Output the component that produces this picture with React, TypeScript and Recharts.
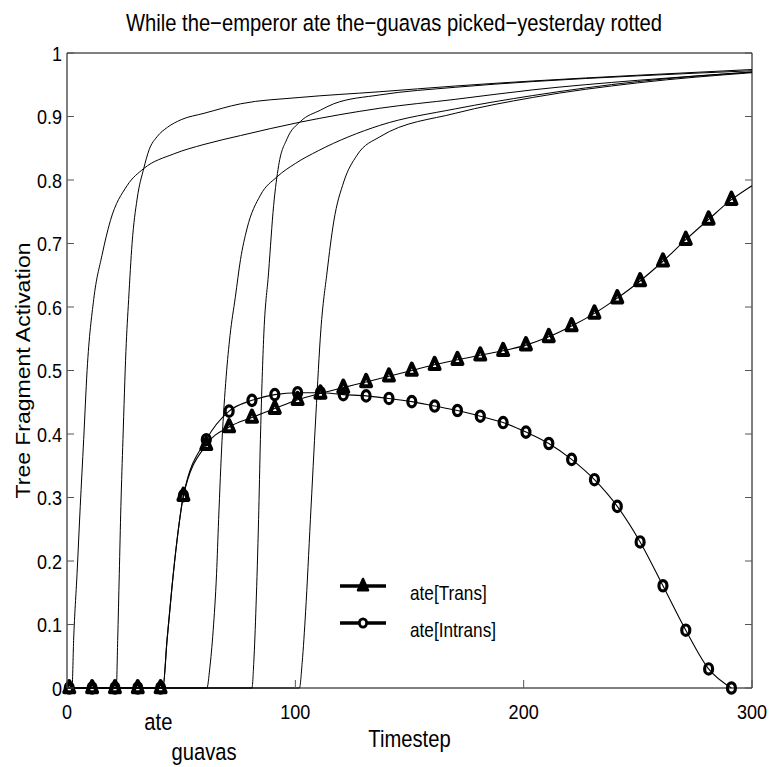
import React from "react";
import { LineChart, Line, XAxis, YAxis, Legend } from "recharts";

// timesteps where the markers are drawn
const markerSteps = [
  1, 11, 21, 31, 41, 51, 61, 71, 81, 91, 101, 111, 121, 131, 141, 151, 161,
  171, 181, 191, 201, 211, 221, 231, 241, 251, 261, 271, 281, 291,
];
const transMarks = [
  0, 0, 0, 0, 0, 0.303, 0.383, 0.411, 0.426, 0.44, 0.454, 0.464, 0.473, 0.482,
  0.491, 0.5, 0.509, 0.517, 0.524, 0.531, 0.54, 0.553, 0.57, 0.59, 0.614,
  0.641, 0.672, 0.706, 0.738, 0.769,
];
const intransMarks = [
  0, 0, 0, 0, 0, 0.303, 0.391, 0.436, 0.453, 0.462, 0.465, 0.465, 0.462, 0.46,
  0.456, 0.451, 0.444, 0.437, 0.428, 0.418, 0.403, 0.385, 0.36, 0.328, 0.286,
  0.23, 0.161, 0.091, 0.03, 0,
];
// unmarked points of the same curves (the rise after "ate", the end)
const riseSteps = [42, 43.8, 46, 48.2];
const transRise = [0, 0.075, 0.16, 0.233];
const intransRise = [0, 0.075, 0.16, 0.233];
const transEnd: [number, number][] = [[300, 0.791]];

// the other tree fragments, thin lines without markers
const fragmentA: [number, number][] = [
  [0, 0], [2.2, 0], [2.9, 0.075], [4.4, 0.18], [5.8, 0.286], [7.3, 0.391],
  [8.8, 0.5], [11.7, 0.612], [15.3, 0.681], [19, 0.736], [26.3, 0.791],
  [33.6, 0.818], [46.7, 0.841], [60, 0.856], [76, 0.87], [102, 0.891],
  [137, 0.913], [170, 0.927], [204, 0.942], [250, 0.957], [300, 0.97],
];
const fragmentB: [number, number][] = [
  [0, 0], [21.6, 0], [22.2, 0.075], [22.9, 0.18], [23.6, 0.286], [24.5, 0.391],
  [25.8, 0.53], [27, 0.612], [28.5, 0.7], [30.7, 0.77], [33.6, 0.818],
  [36, 0.848], [39.4, 0.868], [44, 0.883], [50, 0.895], [60, 0.905],
  [76, 0.92], [102, 0.93], [137, 0.939], [170, 0.948], [204, 0.956],
  [250, 0.965], [300, 0.974],
];
const fragmentC: [number, number][] = [
  [0, 0], [61.3, 0], [62.5, 0.03], [64, 0.09], [65.5, 0.18], [66.4, 0.265],
  [67.9, 0.39], [69.7, 0.49], [71.4, 0.555], [73.7, 0.615], [76, 0.675],
  [78.8, 0.723], [84.7, 0.776], [92, 0.805], [100, 0.826], [110, 0.846],
  [137, 0.886], [170, 0.912], [204, 0.933], [250, 0.955], [300, 0.97],
];
const fragmentD: [number, number][] = [
  [0, 0], [81, 0], [81.8, 0.04], [82.8, 0.13], [83.9, 0.265], [84.7, 0.391],
  [86.1, 0.549], [88.3, 0.655], [90.5, 0.76], [92.7, 0.823], [96.4, 0.865],
  [102.2, 0.892], [111, 0.91], [116.8, 0.92], [137, 0.934], [170, 0.946],
  [204, 0.955], [250, 0.964], [300, 0.972],
];
const fragmentE: [number, number][] = [
  [0, 0], [101.8, 0], [103, 0.04], [104.5, 0.12], [106.6, 0.265], [109, 0.43],
  [111.2, 0.565], [113.9, 0.655], [116.8, 0.734], [121.2, 0.797], [127, 0.839],
  [137, 0.868], [170, 0.905], [204, 0.93], [250, 0.953], [300, 0.969],
];
const fragments = [fragmentA, fragmentB, fragmentC, fragmentD, fragmentE];

const xTicks = [0, 100, 200, 300];
const yTicks = [0, 0.1, 0.2, 0.3, 0.4, 0.5, 0.6, 0.7, 0.8, 0.9, 1];
const wordTicks = [
  { t: 40, word: "ate", row: 0 },
  { t: 60, word: "guavas", row: 1 },
];

const title = "While the\u2212emperor ate the\u2212guavas picked\u2212yesterday rotted";
const xLabel = "Timestep";
const yLabel = "Tree Fragment Activation";
const legendItems = [
  { name: "ate[Trans]", shape: "triangle" },
  { name: "ate[Intrans]", shape: "circle" },
];

const FONT = "'Liberation Sans', Arial, Helvetica, sans-serif";
const SX = 0.86; // the original figure is squeezed sideways

const toRows = (pts: [number, number][]) => pts.map(([t, v]) => ({ t, v }));

const markedRows = (marks: number[], rise: number[], end: [number, number][]) => {
  const rows = markerSteps.map((t, i) => ({ t, v: marks[i], mark: true }));
  riseSteps.forEach((t, i) => rows.push({ t, v: rise[i], mark: false }));
  end.forEach(([t, v]) => rows.push({ t, v, mark: false }));
  return rows.sort((a, b) => a.t - b.t);
};

const transRows = markedRows(transMarks, transRise, transEnd);
const intransRows = markedRows(intransMarks, intransRise, []);

const triPath = (cx: number, cy: number) =>
  `M${cx},${cy - 7}L${cx + 5},${cy + 4.3}L${cx - 5},${cy + 4.3}Z`;

const TriangleDot = (props: any) => {
  const { cx, cy, payload, index } = props;
  if (!payload || !payload.mark || cx == null) return <g key={`tri-${index}`} />;
  return (
    <path
      key={`tri-${index}`}
      d={triPath(cx, cy)}
      fill="none"
      stroke="#000"
      strokeWidth={4}
      strokeLinejoin="round"
    />
  );
};

const CircleDot = (props: any) => {
  const { cx, cy, payload, index } = props;
  if (!payload || !payload.mark || cx == null) return <g key={`cir-${index}`} />;
  return (
    <ellipse
      key={`cir-${index}`}
      cx={cx}
      cy={cy}
      rx={4}
      ry={5.2}
      fill="none"
      stroke="#000"
      strokeWidth={3.2}
    />
  );
};

const fmt = (v: number) => String(Number(v.toFixed(1)));

const BottomTick = (props: any) => {
  const { x, y, payload } = props;
  const word = wordTicks.find((w) => w.t === payload.value);
  if (word) {
    return (
      <text
        transform={`translate(${x},${y + (word.row ? 72 : 42)}) scale(${SX},1)`}
        textAnchor="middle"
        fontSize={23.5}
        fontFamily={FONT}
        fill="#000"
      >
        {word.word}
      </text>
    );
  }
  return (
    <g>
      <line x1={x} x2={x} y1={y} y2={y - 8} stroke="#555" />
      <text
        transform={`translate(${x},${y + 31}) scale(${SX},1)`}
        textAnchor="middle"
        fontSize={21}
        fontFamily={FONT}
        fill="#000"
      >
        {payload.value}
      </text>
    </g>
  );
};

const TopTick = (props: any) => {
  const { x, y } = props;
  return <line x1={x} x2={x} y1={y} y2={y + 8} stroke="#555" />;
};

const LeftTick = (props: any) => {
  const { x, y, payload } = props;
  return (
    <g>
      <line x1={x} x2={x + 7} y1={y} y2={y} stroke="#555" />
      <text
        transform={`translate(${x - 5},${y + 7.5}) scale(${SX},1)`}
        textAnchor="end"
        fontSize={21}
        fontFamily={FONT}
        fill="#000"
      >
        {fmt(payload.value)}
      </text>
    </g>
  );
};

const RightTick = (props: any) => {
  const { x, y } = props;
  return <line x1={x} x2={x - 7} y1={y} y2={y} stroke="#555" />;
};

const XLabel = (props: any) => {
  const { viewBox } = props;
  const cx = viewBox.x + viewBox.width / 2;
  return (
    <text
      transform={`translate(${cx},${viewBox.y + 59}) scale(${SX},1)`}
      textAnchor="middle"
      fontSize={23.5}
      fontFamily={FONT}
      fill="#000"
    >
      {xLabel}
    </text>
  );
};

const YLabel = (props: any) => {
  const { viewBox } = props;
  const cy = viewBox.y + viewBox.height / 2;
  return (
    <text
      transform={`translate(30,${cy}) scale(${SX},1) rotate(-90)`}
      textAnchor="middle"
      fontSize={23}
      fontFamily={FONT}
      fill="#000"
    >
      {yLabel}
    </text>
  );
};

const TitleLabel = (props: any) => {
  const { viewBox } = props;
  return (
    <text
      transform={`translate(394,${viewBox.y - 21}) scale(${SX},1)`}
      textAnchor="middle"
      fontSize={23.5}
      fontFamily={FONT}
      fill="#000"
    >
      {title}
    </text>
  );
};

const LegendBox = () => (
  <svg width={190} height={80}>
    {legendItems.map((item, i) => {
      const y = 20 + i * 37;
      return (
        <g key={item.name}>
          <line x1={10} x2={56} y1={y} y2={y} stroke="#000" strokeWidth={3.3} />
          {item.shape === "triangle" ? (
            <path
              d={triPath(33, y)}
              fill="#000"
              stroke="#000"
              strokeWidth={2.5}
              strokeLinejoin="round"
            />
          ) : (
            <ellipse cx={33} cy={y} rx={3.6} ry={4.2} fill="#fff" stroke="#000" strokeWidth={2.8} />
          )}
          <text
            transform={`translate(80,${y + 14}) scale(${SX},1)`}
            fontSize={20}
            fontFamily={FONT}
            fill="#000"
          >
            {item.name}
          </text>
        </g>
      );
    })}
  </svg>
);

export default function App() {
  return (
    <div style={{ position: "absolute", left: 0, top: 0, background: "#fff" }}>
      <LineChart
        width={769}
        height={767}
        margin={{ top: 52, right: 16, bottom: 0, left: 0 }}
      >
        <XAxis
          dataKey="t"
          type="number"
          domain={[0, 300]}
          ticks={[...xTicks, ...wordTicks.map((w) => w.t)]}
          interval={0}
          height={79}
          tickSize={0}
          tickMargin={0}
          tickLine={false}
          axisLine={{ stroke: "#000" }}
          tick={<BottomTick />}
          label={<XLabel />}
        />
        <XAxis
          xAxisId="top"
          orientation="top"
          type="number"
          domain={[0, 300]}
          ticks={xTicks}
          interval={0}
          height={1}
          tickSize={0}
          tickMargin={0}
          tickLine={false}
          axisLine={{ stroke: "#000" }}
          tick={<TopTick />}
          allowDataOverflow
          label={<TitleLabel />}
        />
        <YAxis
          type="number"
          domain={[0, 1]}
          ticks={yTicks}
          interval={0}
          width={67}
          tickSize={0}
          tickMargin={0}
          tickLine={false}
          axisLine={{ stroke: "#000" }}
          tick={<LeftTick />}
          label={<YLabel />}
        />
        <YAxis
          yAxisId="right"
          orientation="right"
          type="number"
          domain={[0, 1]}
          ticks={yTicks}
          interval={0}
          width={1}
          tickSize={0}
          tickMargin={0}
          tickLine={false}
          axisLine={{ stroke: "#000" }}
          tick={<RightTick />}
          allowDataOverflow
        />
        {fragments.map((pts, i) => (
          <Line
            key={`frag-${i}`}
            data={toRows(pts)}
            dataKey="v"
            type="monotone"
            stroke="#000"
            strokeWidth={1}
            dot={false}
            activeDot={false}
            isAnimationActive={false}
          />
        ))}
        <Line
          data={transRows}
          dataKey="v"
          name="ate[Trans]"
          type="monotone"
          stroke="#000"
          strokeWidth={1.1}
          dot={TriangleDot}
          activeDot={false}
          isAnimationActive={false}
        />
        <Line
          data={intransRows}
          dataKey="v"
          name="ate[Intrans]"
          type="monotone"
          stroke="#000"
          strokeWidth={1.1}
          dot={CircleDot}
          activeDot={false}
          isAnimationActive={false}
        />
        <Legend
          layout="vertical"
          align="center"
          verticalAlign="middle"
          wrapperStyle={{ left: 330, top: 566, width: 190 }}
          content={LegendBox}
        />
      </LineChart>
    </div>
  );
}
